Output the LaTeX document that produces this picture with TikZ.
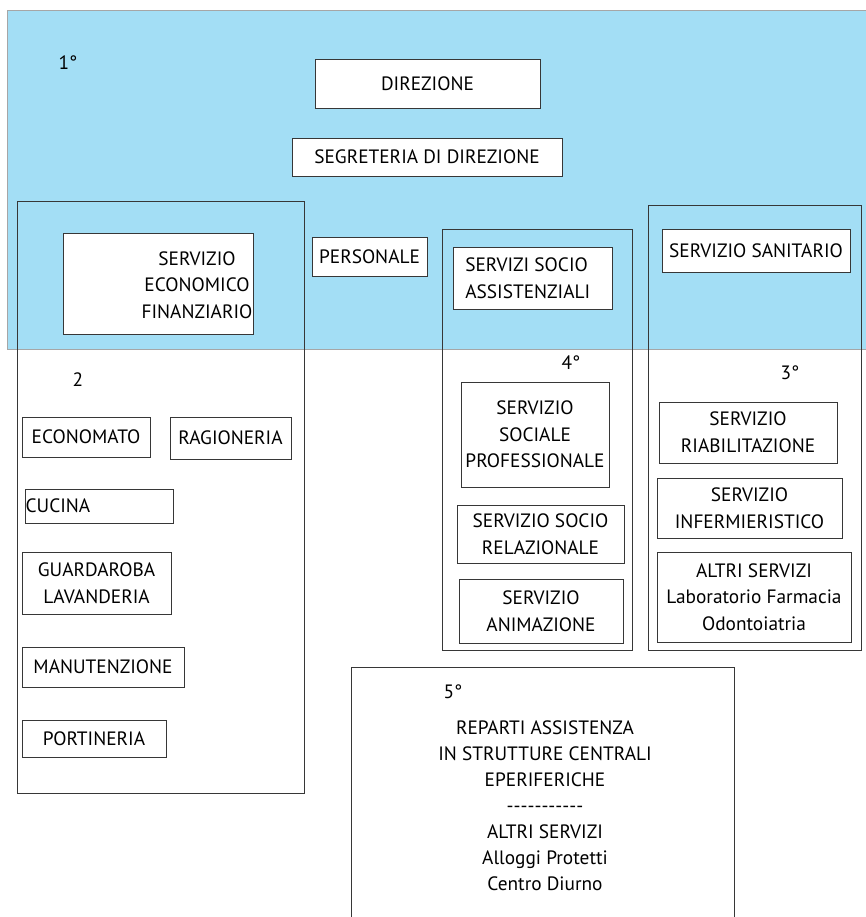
\documentclass[tikz,border=0pt]{standalone}
\usepackage{fontspec}
\setmainfont{PT Sans}
\definecolor{fascia}{RGB}{163,222,245}
\definecolor{bordo}{RGB}{55,55,55}
\tikzset{
  testo/.style={font=\fontsize{11.6}{16}\selectfont, inner sep=0pt, align=center},
  box/.style={testo, draw=bordo, line width=0.6pt, fill=white},
  cornice/.style={draw=bordo, line width=0.6pt},
  wh/.style 2 args={minimum width=#1*0.6pt, minimum height=#2*0.6pt},
}

\begin{document}
\begin{tikzpicture}[x=0.6pt,y=-0.6pt]
    \useasboundingbox (0,0) rectangle (865,917);
    % fascia azzurra del primo livello
    \draw[gray!70,fill=fascia] (7,10) rectangle (870,349);
    \node[testo] (liv1) at (68,63) {1°};
    % direzione
    \node[box,wh={225}{49}] (dir) at (427.5,83.5) {DIREZIONE};
    \node[box,wh={270}{38}] (segr) at (427,157) {SEGRETERIA DI DIREZIONE};
    % cornici dei servizi
    \draw[cornice] (17,201) rectangle (304,793);
    \draw[cornice] (442,229) rectangle (632,650);
    \draw[cornice] (648,205) rectangle (861,650);
    % servizio economico finanziario (2)
    \node[box,wh={190}{101}] (econ) at (158,283.5) {};
    \node[testo] (econtxt) at (197,285) {SERVIZIO\\ECONOMICO\\FINANZIARIO};
    \node[testo] (liv2) at (78,380) {2};
    \node[box,wh={128}{40}] (econom) at (86,437) {ECONOMATO};
    \node[box,wh={121}{42}] (ragion) at (230.5,438) {\raisebox{-2pt}{RAGIONERIA}};
    \node[box,wh={148}{34},text width=88pt,align=left] (cucina) at (99,506) {CUCINA};
    \node[box,wh={149}{62}] (guard) at (96.5,583) {GUARDAROBA\\LAVANDERIA};
    \node[box,wh={162}{40}] (manut) at (103,667) {MANUTENZIONE};
    \node[box,wh={144}{37}] (portin) at (94,738.5) {PORTINERIA};
    % personale
    \node[box,wh={115}{39}] (pers) at (369.5,256.5) {PERSONALE};
    % servizi socio assistenziali (4)
    \node[box,wh={159}{62}] (socass) at (532.5,278) {};
    \node[testo,align=left,anchor=west] (socasstxt) at (465,278) {SERVIZI SOCIO\\ASSISTENZIALI};
    \node[testo] (liv4) at (571,363) {4°};
    \node[box,wh={148}{105}] (socprof) at (535,434.5) {SERVIZIO\\SOCIALE\\PROFESSIONALE};
    \node[box,wh={167}{58}] (socrel) at (540.5,534) {SERVIZIO SOCIO\\RELAZIONALE};
    \node[box,wh={164}{64}] (anim) at (541,611) {SERVIZIO\\ANIMAZIONE};
    % servizio sanitario (3)
    \node[box,wh={188}{43}] (sanit) at (756,250.5) {SERVIZIO SANITARIO};
    \node[testo] (liv3) at (790,373) {3°};
    \node[box,wh={178}{61}] (riab) at (748,432.5) {SERVIZIO\\RIABILITAZIONE};
    \node[box,wh={185}{60}] (inferm) at (749.5,508) {SERVIZIO\\INFERMIERISTICO};
    \node[box,wh={194}{90}] (altri) at (754,597) {ALTRI SERVIZI\\Laboratorio Farmacia\\Odontoiatria};
    % reparti (5), aperto in basso
    \draw[cornice] (351,930) |- (734,667) -- (734,930);
    \node[testo] (liv5) at (453,692) {5°};
    \node[testo,font=\fontsize{11.6}{15.6}\selectfont] (reparti) at (545,806)
      {REPARTI ASSISTENZA\\IN STRUTTURE CENTRALI\\EPERIFERICHE\\-{}-{}-{}-{}-{}-{}-{}-{}-{}-{}-\\ALTRI SERVIZI\\Alloggi Protetti\\Centro Diurno};
\end{tikzpicture}
\end{document}
